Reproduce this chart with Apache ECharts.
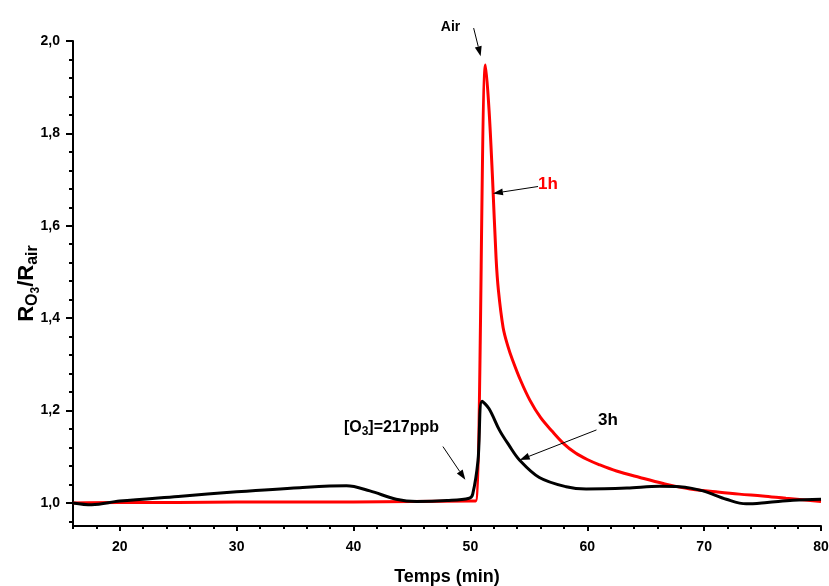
<!DOCTYPE html>
<html>
<head>
<meta charset="utf-8">
<script src="https://cdn.jsdelivr.net/npm/echarts@6/dist/echarts.min.js"></script>
<style>
html,body{margin:0;padding:0;background:#fff;}
#c{width:829px;height:586px;}
</style>
</head>
<body>
<div id="c"></div>
<script>
// ---- data ----
const xRed = [16,20,25,30,35,40,45,50,50.45,51.3,51.6,51.9,52.2,52.4,52.8,53.2,53.6,54.3,55.1,56,57,58,59,60,61,62.5,64.5,66.5,68.8,71,73,75,77,80];
const yRed = [1.000,1.001,1.001,1.002,1.002,1.002,1.003,1.004,1.004,1.948,1.85,1.70,1.53,1.46,1.38,1.34,1.31,1.265,1.222,1.185,1.155,1.128,1.108,1.094,1.083,1.069,1.055,1.042,1.030,1.024,1.019,1.015,1.010,1.003];
const xBlack = [16,17.6,20,25,30,35.4,39.4,41.4,43.65,45.4,48,49.9,50.2,50.65,51.0,51.6,52.5,53.3,54.2,55.9,58.2,59.9,63.4,66.2,67.9,69.9,71.9,73.6,75.4,77.6,80];
const yBlack = [1.0,0.996,1.004,1.014,1.024,1.033,1.037,1.026,1.008,1.003,1.005,1.010,1.019,1.091,1.220,1.204,1.157,1.125,1.093,1.055,1.035,1.030,1.032,1.036,1.035,1.026,1.008,0.998,1.001,1.006,1.008];

const xTicks = [20,30,40,50,60,70,80];
const xMinorTicks = [16,18,22,24,26,28,32,34,36,38,42,44,46,48,52,54,56,58,62,64,66,68,72,74,76,78];
const yTicks = [1.0,1.2,1.4,1.6,1.8,2.0];
const yMinorTicks = [0.96,1.04,1.08,1.12,1.16,1.24,1.28,1.32,1.36,1.44,1.48,1.52,1.56,1.64,1.68,1.72,1.76,1.84,1.88,1.92,1.96];

// annotations: text position, arrow start, arrow end (data units)
const annAir = {text:[48.3,2.031], from:[50.28,2.028], to:[50.88,1.967]};
const ann1h = {text:[56.64,1.689], from:[55.79,1.685], to:[51.93,1.670]};
const annO3 = {text:[43.25,1.164], from:[47.65,1.122], to:[49.57,1.050]};
const ann3h = {text:[61.77,1.178], from:[60.79,1.158], to:[54.22,1.093]};

const FONT = '"Liberation Sans", Arial, sans-serif';
const X_MIN = 16, X_MAX = 80, Y_MIN = 0.95, Y_MAX = 2.0;

function pairs(xs, ys){ return xs.map((x,i)=>[x, ys[i]]); }
function fmt(v){ return v.toFixed(1).replace('.', ','); }

const chart = echarts.init(document.getElementById('c'), null, {renderer:'canvas'});
chart.setOption({
  animation:false,
  backgroundColor:'#ffffff',
  grid:{left:73, right:8, top:41, bottom:60, containLabel:false, outerBoundsMode:'none'},
  xAxis:[
    {type:'value', min:X_MIN, max:X_MAX,
     name:'Temps (min)', nameLocation:'middle', nameGap:42,
     nameTextStyle:{fontFamily:FONT, fontWeight:'bold', fontSize:18, color:'#000'},
     axisLine:{show:true, onZero:false, lineStyle:{color:'#000', width:2}},
     axisTick:{show:true, customValues:xTicks, length:5, lineStyle:{color:'#000', width:2}},
     axisLabel:{customValues:xTicks, margin:14, fontFamily:FONT, fontWeight:'bold', fontSize:14, color:'#000'},
     splitLine:{show:false}},
    {type:'value', min:X_MIN, max:X_MAX, position:'bottom', offset:0,
     axisLine:{show:false, onZero:false},
     axisTick:{show:true, customValues:xMinorTicks, length:3, lineStyle:{color:'#000', width:2}},
     axisLabel:{show:false}, splitLine:{show:false}}
  ],
  yAxis:[
    {type:'value', min:Y_MIN, max:Y_MAX,
     name:'{b|R}{s|O}{ss|3}{b|/R}{s|air}', nameLocation:'middle', nameGap:31, nameMoveOverlap:false,
     nameTextStyle:{fontFamily:FONT, fontWeight:'bold', color:'#000',
       rich:{
         b:{fontFamily:FONT, fontWeight:'bold', fontSize:22, color:'#000'},
         s:{fontFamily:FONT, fontWeight:'bold', fontSize:16, color:'#000', padding:[12,0,0,0]},
         ss:{fontFamily:FONT, fontWeight:'bold', fontSize:12, color:'#000', padding:[18,0,0,0]}
       }},
     axisLine:{show:true, onZero:false, lineStyle:{color:'#000', width:2}},
     axisTick:{show:true, customValues:yTicks, length:7, lineStyle:{color:'#000', width:2}},
     axisLabel:{customValues:yTicks, margin:13, formatter:fmt, fontFamily:FONT, fontWeight:'bold', fontSize:14, color:'#000'},
     splitLine:{show:false}},
    {type:'value', min:Y_MIN, max:Y_MAX, position:'left', offset:0,
     axisLine:{show:false, onZero:false},
     axisTick:{show:true, customValues:yMinorTicks, length:4, lineStyle:{color:'#000', width:2}},
     axisLabel:{show:false}, splitLine:{show:false}}
  ],
  series:[
    {type:'line', name:'1h', data:pairs(xRed, yRed), showSymbol:false, smooth:0.35,
     clip:false, lineStyle:{color:'#ff0000', width:3}, itemStyle:{color:'#ff0000'}, z:2},
    {type:'line', name:'3h', data:pairs(xBlack, yBlack), showSymbol:false, smooth:0.35,
     clip:false, lineStyle:{color:'#000000', width:3}, itemStyle:{color:'#000000'}, z:3}
  ]
});

// ---- annotations positioned through the axes' own scales ----
function px(c){ return chart.convertToPixel({xAxisIndex:0, yAxisIndex:0}, c); }
function arrow(a){
  const p1 = px(a.from), p2 = px(a.to);
  const dx = p2[0]-p1[0], dy = p2[1]-p1[1];
  const L = Math.sqrt(dx*dx+dy*dy), ux = dx/L, uy = dy/L;
  const hl = 10, hw = 3.5;
  const bx = p2[0]-ux*hl, by = p2[1]-uy*hl;
  return [
    {type:'line', shape:{x1:p1[0], y1:p1[1], x2:bx, y2:by}, style:{stroke:'#000', lineWidth:1}, silent:true, z:10},
    {type:'polygon', shape:{points:[[p2[0],p2[1]],[bx-uy*hw, by+ux*hw],[bx+uy*hw, by-ux*hw]]}, style:{fill:'#000'}, silent:true, z:10}
  ];
}
function label(a, text, size, color, rich){
  const p = px(a.text);
  const style = {text:text, x:p[0], y:p[1], align:'center', verticalAlign:'middle',
    font:'bold '+size+'px '+FONT, fill:color};
  if (rich) style.rich = rich;
  return {type:'text', style:style, silent:true, z:10};
}
const g = [].concat(
  arrow(annAir), arrow(ann1h), arrow(annO3), arrow(ann3h),
  [label(annAir, 'Air', 14, '#000'),
   label(ann1h, '1h', 17, '#ff0000'),
   label(ann3h, '3h', 17, '#000'),
   label(annO3, '{n|[O}{s|3}{n|]=217ppb}', 16, '#000', {
     n:{fontFamily:FONT, fontWeight:'bold', fontSize:16, fill:'#000'},
     s:{fontFamily:FONT, fontWeight:'bold', fontSize:12, fill:'#000', padding:[10,0,0,0]}
   })]
);
chart.setOption({graphic:g});
</script>
</body>
</html>
